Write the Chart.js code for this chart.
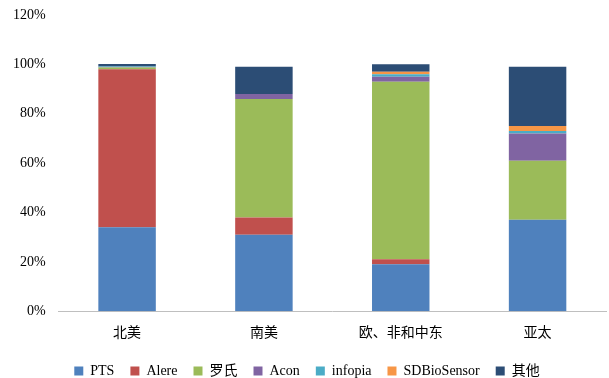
<!DOCTYPE html>
<html><head><meta charset="utf-8">
<script src="https://cdn.jsdelivr.net/npm/chart.js@4/dist/chart.umd.min.js"></script>
<style>html,body{margin:0;padding:0;background:#fff}#c{display:block}</style>
</head><body>
<canvas id="c" width="609" height="378"></canvas>
<script>
const categories = ['北美', '南美', '欧、非和中东', '亚太'];
const seriesNames = ['PTS', 'Alere', '罗氏', 'Acon', 'infopia', 'SDBioSensor', '其他'];
const PTS = [34, 31, 19, 37];
const Alere = [64, 7, 2, 0];
const Roche = [0.7, 48, 72, 24];
const Acon = [0.2, 2, 2, 11];
const infopia = [0.2, 0, 1, 1];
const SDBioSensor = [0, 0, 1, 2];
const Others = [1, 11, 3, 24];
const yTicks = [0, 20, 40, 60, 80, 100, 120];
const colors = ['#4F81BD', '#C0504D', '#9BBB59', '#8064A2', '#4BACC6', '#F79646', '#2C4D75'];
const seriesData = [PTS, Alere, Roche, Acon, infopia, SDBioSensor, Others];
const font = "'Liberation Serif', 'Times New Roman', 'Noto Sans CJK SC', serif";

new Chart(document.getElementById('c'), {
  type: 'bar',
  data: {
    labels: categories,
    datasets: seriesNames.map((n, i) => ({
      label: n,
      data: seriesData[i],
      backgroundColor: colors[i],
      borderWidth: 0,
      barPercentage: 0.42,
      categoryPercentage: 1
    }))
  },
  options: {
    responsive: false,
    animation: false,
    layout: { padding: { left: 8, right: 3, top: 15, bottom: -10 } },
    plugins: {
      legend: {
        position: 'bottom',
        labels: {
          boxWidth: 9, boxHeight: 9, padding: 16,
          color: '#000',
          font: { family: font, size: 14 }
        }
      },
      tooltip: { enabled: false }
    },
    scales: {
      x: {
        stacked: true,
        grid: { display: false },
        border: { display: true, color: '#BFBFBF' },
        ticks: { color: '#000', font: { family: font, size: 14 }, padding: 6 }
      },
      y: {
        stacked: true,
        min: 0, max: 120,
        afterBuildTicks: ax => { ax.ticks = yTicks.map(v => ({ value: v })); },
        grid: { display: false },
        border: { display: false },
        ticks: { color: '#000', font: { family: font, size: 14 }, padding: 5, callback: v => v + '%' }
      }
    }
  }
});
</script>
</body></html>
